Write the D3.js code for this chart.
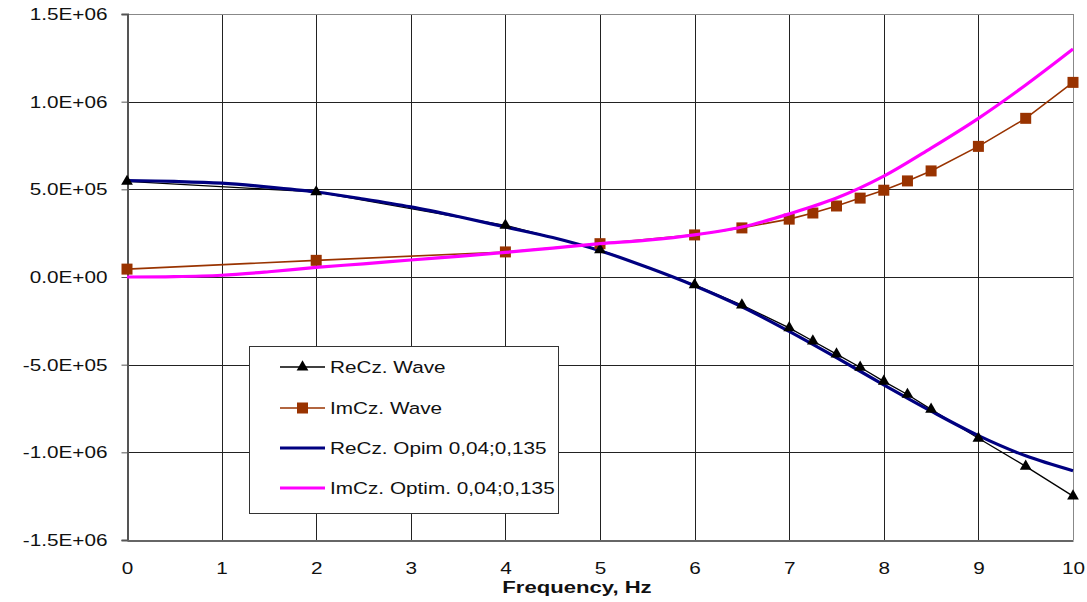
<!DOCTYPE html>
<html>
<head>
<meta charset="utf-8">
<script src="https://cdn.jsdelivr.net/npm/d3@7"></script>
<style>
  body { margin: 0; background: #fff; }
  text { font-family: "Liberation Sans", Arial, sans-serif; }
</style>
</head>
<body>
<div id="chart"></div>
<script>
// measured points (Wave model)
var freqWave = [0, 2, 4, 5, 6, 6.5, 7, 7.25, 7.5, 7.75, 8, 8.25, 8.5, 9, 9.5, 10];
var reWave = [5.45e5, 4.85e5, 2.95e5, 1.55e5, -0.45e5, -1.6e5, -2.9e5, -3.65e5, -4.4e5, -5.15e5, -5.95e5, -6.7e5, -7.55e5, -9.2e5, -1.08e6, -1.25e6];
var imWave = [0.45e5, 0.95e5, 1.43e5, 1.9e5, 2.4e5, 2.8e5, 3.3e5, 3.65e5, 4.05e5, 4.5e5, 4.95e5, 5.48e5, 6.05e5, 7.45e5, 9.05e5, 1.11e6];

// optimised curves, read every 0.5 Hz
var freqOpt = [0, 0.5, 1, 1.5, 2, 2.5, 3, 3.5, 4, 4.5, 5, 5.5, 6, 6.5, 7, 7.5, 8, 8.5, 9, 9.5, 10];
var reOpt = [5.5e5, 5.45e5, 5.35e5, 5.13e5, 4.85e5, 4.45e5, 4.0e5, 3.45e5, 2.85e5, 2.25e5, 1.5e5, 0.55e5, -0.5e5, -1.7e5, -3.1e5, -4.6e5, -6.15e5, -7.65e5, -9.05e5, -1.02e6, -1.105e6];
var imOpt = [0, 0.02e5, 0.1e5, 0.3e5, 0.55e5, 0.75e5, 0.97e5, 1.18e5, 1.4e5, 1.65e5, 1.9e5, 2.1e5, 2.4e5, 2.85e5, 3.6e5, 4.5e5, 5.75e5, 7.35e5, 9.05e5, 1.095e6, 1.3e6];

var xTicks = [0, 1, 2, 3, 4, 5, 6, 7, 8, 9, 10];
var yTicks = [-1.5e6, -1.0e6, -0.5e6, 0, 0.5e6, 1.0e6, 1.5e6];
var legendNames = ["ReCz. Wave", "ImCz. Wave", "ReCz. Opim 0,04;0,135", "ImCz. Optim. 0,04;0,135"];

var width = 1087, height = 602;
var pLeft = 127, pRight = 1073, pTop = 14, pBottom = 540;
var stretch = 1.22; // text in the original is a bit wide

var svg = d3.select("#chart").append("svg").attr("width", width).attr("height", height);

var x = d3.scaleLinear().domain([0, 10]).range([pLeft, pRight]);
var y = d3.scaleLinear().domain([-1.5e6, 1.5e6]).range([pBottom, pTop]);

function fmt(v) {
  var s = v.toExponential(1).toUpperCase();   // e.g. 1.5E+6
  var m = s.match(/^(-?[\d.]+)E([+-])(\d+)$/);
  var exp = m[3].length < 2 ? "0" + m[3] : m[3];
  return m[1] + "E" + m[2] + exp;
}

// grid
svg.append("g").selectAll("line").data(xTicks.slice(1, -1)).enter().append("line")
  .attr("x1", function(d) { return Math.round(x(d)) + 0.5; })
  .attr("x2", function(d) { return Math.round(x(d)) + 0.5; })
  .attr("y1", pTop).attr("y2", pBottom)
  .attr("stroke", "#222").attr("stroke-width", 1);
svg.append("g").selectAll("line").data(yTicks.slice(1, -1)).enter().append("line")
  .attr("x1", pLeft).attr("x2", pRight)
  .attr("y1", function(d) { return Math.round(y(d)) + 0.5; })
  .attr("y2", function(d) { return Math.round(y(d)) + 0.5; })
  .attr("stroke", "#222").attr("stroke-width", 1);

// frame
svg.append("line").attr("x1", pLeft).attr("x2", pRight).attr("y1", pTop + 0.5).attr("y2", pTop + 0.5).attr("stroke", "#888");
svg.append("line").attr("x1", pRight + 0.5).attr("x2", pRight + 0.5).attr("y1", pTop).attr("y2", pBottom).attr("stroke", "#888");

// axes
var yAxis = d3.axisLeft(y).tickValues(yTicks).tickFormat(fmt).tickSize(6).tickPadding(14);
var gy = svg.append("g").attr("transform", "translate(" + (pLeft + 0.5) + ",0)").call(yAxis);
gy.select(".domain").attr("stroke", "#555").attr("stroke-width", 2);
gy.selectAll(".tick line").attr("stroke", "#555");
gy.selectAll("text").attr("font-size", 17).attr("fill", "#111").style("font-family", "Liberation Sans, Arial, sans-serif")
  .attr("x", -20 / stretch).attr("transform", "scale(" + stretch + ",1)");

var xAxis = d3.axisBottom(x).tickValues(xTicks).tickFormat(d3.format("d")).tickSize(0).tickPadding(21);
var gx = svg.append("g").attr("transform", "translate(0," + (pBottom + 0.5) + ")").call(xAxis);
gx.select(".domain").attr("stroke", "#666").attr("stroke-width", 2);
gx.selectAll("text").attr("font-size", 17).attr("fill", "#111").style("font-family", "Liberation Sans, Arial, sans-serif")
  .attr("transform", "scale(" + stretch + ",1)");

svg.append("text").attr("transform", "translate(577,593) scale(1.3,1)").attr("text-anchor", "middle")
  .attr("font-size", 17).attr("font-weight", "bold").attr("fill", "#111").text("Frequency, Hz");

// series
var line = d3.line().x(function(d) { return x(d[0]); }).y(function(d) { return y(d[1]); });
var smooth = d3.line().curve(d3.curveCatmullRom).x(function(d) { return x(d[0]); }).y(function(d) { return y(d[1]); });

var reWavePts = freqWave.map(function(f, i) { return [f, reWave[i]]; });
var imWavePts = freqWave.map(function(f, i) { return [f, imWave[i]]; });
var reOptPts = freqOpt.map(function(f, i) { return [f, reOpt[i]]; });
var imOptPts = freqOpt.map(function(f, i) { return [f, imOpt[i]]; });

svg.append("path").attr("d", line(imWavePts)).attr("fill", "none").attr("stroke", "#993300").attr("stroke-width", 1.6);
svg.append("path").attr("d", line(reWavePts)).attr("fill", "none").attr("stroke", "#000").attr("stroke-width", 1.3);
svg.append("path").attr("d", smooth(reOptPts)).attr("fill", "none").attr("stroke", "#000080").attr("stroke-width", 3.2);

svg.append("g").selectAll("rect").data(imWavePts).enter().append("rect")
  .attr("x", function(d) { return x(d[0]) - 5.5; })
  .attr("y", function(d) { return y(d[1]) - 5.5; })
  .attr("width", 11).attr("height", 11).attr("fill", "#993300");

var tri = d3.symbol().type(d3.symbolTriangle).size(60);
svg.append("g").selectAll("path").data(reWavePts).enter().append("path")
  .attr("d", tri)
  .attr("transform", function(d) { return "translate(" + x(d[0]) + "," + y(d[1]) + ")"; })
  .attr("fill", "#000");

svg.append("path").attr("d", smooth(imOptPts)).attr("fill", "none").attr("stroke", "#ff00ff").attr("stroke-width", 3.2);

// legend
var lg = svg.append("g");
lg.append("rect").attr("x", 249.5).attr("y", 346.5).attr("width", 309).attr("height", 167)
  .attr("fill", "#fff").attr("stroke", "#333").attr("stroke-width", 1);
var rows = [367, 408, 448, 488];
var styles = [
  { c: "#000", w: 1.3, m: "tri" },
  { c: "#993300", w: 1.6, m: "sq" },
  { c: "#000080", w: 3.2, m: null },
  { c: "#ff00ff", w: 3.2, m: null }
];
legendNames.forEach(function(name, i) {
  var yy = rows[i];
  lg.append("line").attr("x1", 280).attr("x2", 325).attr("y1", yy).attr("y2", yy)
    .attr("stroke", styles[i].c).attr("stroke-width", styles[i].w);
  if (styles[i].m === "tri") {
    lg.append("path").attr("d", tri).attr("transform", "translate(302.5," + yy + ")").attr("fill", "#000");
  } else if (styles[i].m === "sq") {
    lg.append("rect").attr("x", 297).attr("y", yy - 5.5).attr("width", 11).attr("height", 11).attr("fill", "#993300");
  }
  lg.append("text").attr("transform", "translate(330," + (yy + 6) + ") scale(" + stretch + ",1)")
    .attr("font-size", 17).attr("fill", "#111").text(name);
});
</script>
</body>
</html>
